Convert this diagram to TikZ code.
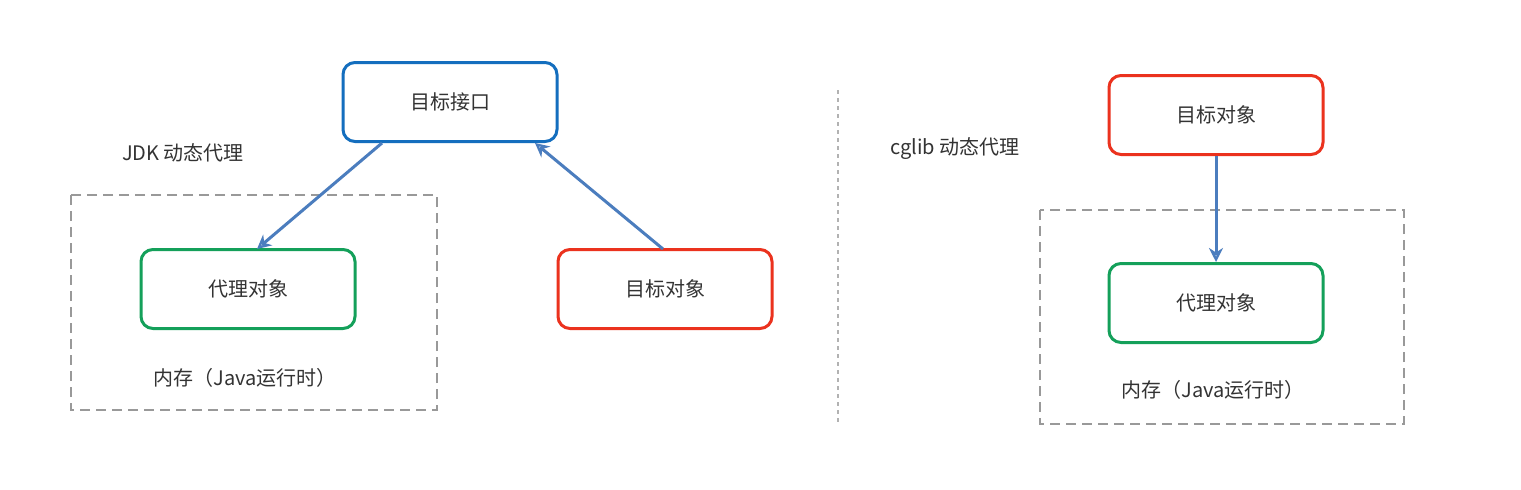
\documentclass[tikz,border=0pt]{standalone}
\usepackage{fontspec}
\setmainfont{Noto Sans CJK SC}
\usetikzlibrary{arrows.meta}
\definecolor{bblue}{RGB}{20,110,190}
\definecolor{bgreen}{RGB}{20,160,90}
\definecolor{bred}{RGB}{235,50,30}
\definecolor{arr}{RGB}{75,125,190}
\begin{document}
\begin{tikzpicture}[x=1pt,y=-1pt,
  box/.style={draw,line width=3pt,rounded corners=12pt,minimum width=214pt,minimum height=79pt,font=\fontsize{20}{24}\selectfont,text=black!80},
  mem/.style={draw=gray!80,dashed,line width=2.5pt,dash pattern=on 10pt off 6pt},
  lbl/.style={font=\fontsize{20}{24}\selectfont,text=black!80},
  con/.style={draw=arr,line width=3pt,-{Stealth[length=14pt,width=14pt,open]}}]
\useasboundingbox (0,0) rectangle (1521,490);
\fill[white] (0,0) rectangle (1521,490);
\draw[mem] (71,195) rectangle (437,410);
\draw[mem] (1040,210) rectangle (1404,424);
\draw[gray!60,line width=1.5pt,dash pattern=on 4pt off 4pt] (838,90) -- (838,425);
\node[box,draw=bblue] (iface) at (450,102) {目标接口};
\node[box,draw=bgreen] (proxyL) at (248,289) {代理对象};
\node[box,draw=bred] (targetM) at (665,289) {目标对象};
\node[box,draw=bred] (targetR) at (1216,115) {目标对象};
\node[box,draw=bgreen] (proxyR) at (1216,303) {代理对象};
\node[lbl] (jdk) at (183,153) {JDK 动态代理};
\node[lbl] (cglib) at (955,149) {cglib 动态代理};
\node[lbl] (memL) at (245,378) {内存（Java运行时）};
\node[lbl] (memR) at (1213,390) {内存（Java运行时）};
\coordinate (a1) at (382,143); \coordinate (a2) at (257,249);
\coordinate (b1) at (663,249); \coordinate (b2) at (535,143);
\draw[con] (a1) -- (a2);
\draw[con] (b1) -- (b2);
\draw[con] (targetR.south) -- (proxyR.north);
\end{tikzpicture}
\end{document}
